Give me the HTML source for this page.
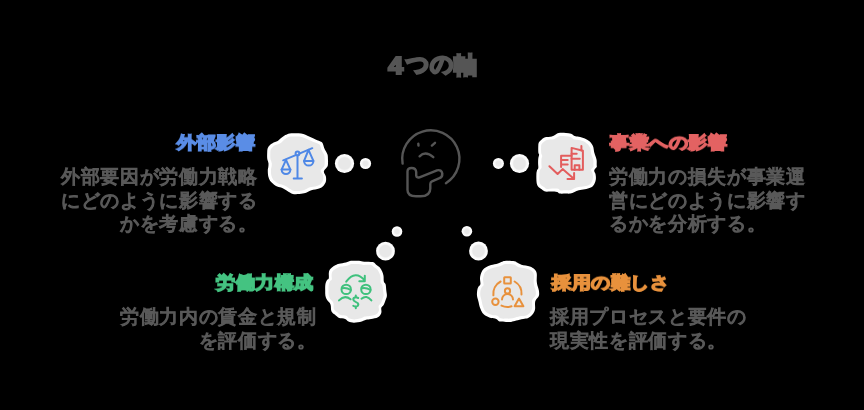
<!DOCTYPE html>
<html><head><meta charset="utf-8">
<style>
html,body{margin:0;padding:0;background:#000;}
body{width:864px;height:410px;position:relative;overflow:hidden;font-family:"Liberation Sans",sans-serif;}
.t{position:absolute;white-space:nowrap;will-change:transform;}
.title{left:0;top:0;font-size:23px;line-height:30px;color:#555;-webkit-text-stroke:2.2px #555;font-weight:bold;}
.title span{position:absolute;}
.h{font-size:19px;letter-spacing:0.5px;line-height:24px;-webkit-text-stroke:2.4px currentColor;transform:scaleY(0.9);transform-origin:50% 11.5px;}
.d{font-size:19px;letter-spacing:0.65px;line-height:23.7px;color:#595959;-webkit-text-stroke:1.2px #595959;}
.r{text-align:right;}
svg{position:absolute;left:0;top:0;}
</style></head><body>
<div class="t title"><span style="left:388.2px;top:50.9px;display:inline-block;transform:scaleX(1.16);transform-origin:-1px 0">4</span><span style="left:406.3px;top:49.3px">つ</span><span style="left:430.2px;top:49.2px">の</span><span style="left:453.9px;top:50.4px">軸</span></div>

<div class="t h r" style="right:609px;top:131px;color:#5a8de6;">外部影響</div>
<div class="t d r" style="right:607px;top:165.3px;">外部要因が労働力戦略<br>にどのように影響する<br>かを考慮する。</div>

<div class="t h" style="left:610px;top:131px;color:#e36262;">事業への影響</div>
<div class="t d" style="left:609px;top:165.3px;">労働力の損失が事業運<br>営にどのように影響す<br>るかを分析する。</div>

<div class="t h r" style="right:551px;top:271px;color:#44c381;">労働力構成</div>
<div class="t d r" style="right:548px;top:305.3px;">労働力内の賃金と規制<br>を評価する。</div>

<div class="t h" style="left:552px;top:271px;color:#e8913c;">採用の難しさ</div>
<div class="t d" style="left:550px;top:305.3px;">採用プロセスと要件の<br>現実性を評価する。</div>

<svg width="864" height="410" viewBox="0 0 864 410">
  <defs><filter id="soft" x="-10%" y="-10%" width="120%" height="120%"><feGaussianBlur stdDeviation="0.6"/></filter></defs>
  <g><path fill="#ffffff" d="M296.0,133.2 C297.9,133.2 299.5,133.2 301.1,133.4 C302.7,133.7 304.0,134.1 305.4,134.7 C306.8,135.3 308.0,136.0 309.7,136.8 C311.4,137.6 313.6,138.5 315.6,139.4 C317.6,140.3 320.3,141.1 321.6,142.0 C322.9,142.9 322.9,143.9 323.3,144.9 C323.7,145.9 323.8,146.8 324.2,147.9 C324.6,149.0 325.3,150.2 325.9,151.3 C326.5,152.5 327.2,153.4 327.6,154.8 C328.0,156.2 327.9,158.7 328.0,159.9 C328.1,161.1 328.1,160.9 328.0,162.0 C327.9,163.1 328.2,164.9 327.6,166.3 C327.0,167.7 324.8,169.4 324.2,170.5 C323.6,171.6 323.9,172.1 324.2,173.1 C324.5,174.1 325.6,175.1 325.9,176.5 C326.2,177.9 326.3,180.0 325.9,181.6 C325.5,183.2 324.4,184.8 323.3,185.9 C322.2,187.1 321.1,187.8 319.1,188.5 C317.1,189.2 313.4,189.6 311.4,190.2 C309.4,190.8 308.5,191.7 307.1,192.3 C305.7,192.9 304.7,193.3 302.8,193.6 C300.9,193.9 297.6,194.2 296.0,194.3 C294.4,194.4 294.2,194.4 293.0,194.0 C291.8,193.6 290.2,192.7 288.8,191.9 C287.4,191.1 285.8,190.0 284.5,189.3 C283.2,188.6 282.5,188.2 281.1,187.6 C279.7,187.0 277.4,186.6 276.0,185.9 C274.6,185.2 273.5,184.2 272.5,183.3 C271.5,182.5 270.7,181.9 270.0,180.8 C269.3,179.7 268.7,178.2 268.3,176.5 C267.9,174.8 267.8,172.1 267.8,170.5 C267.8,168.9 268.2,168.3 268.3,167.1 C268.4,165.9 268.6,164.6 268.5,163.5 C268.4,162.4 268.0,161.6 267.8,160.7 C267.6,159.8 267.3,159.6 267.2,158.2 C267.1,156.8 267.1,153.9 267.2,152.2 C267.3,150.5 267.3,149.1 267.8,147.9 C268.3,146.7 269.2,145.8 270.0,145.0 C270.8,144.2 271.2,143.8 272.5,143.2 C273.8,142.5 276.3,141.9 277.7,141.1 C279.1,140.2 279.8,139.1 281.1,138.1 C282.4,137.1 283.9,135.9 285.3,135.1 C286.7,134.3 287.8,133.7 289.6,133.4 C291.4,133.1 294.1,133.2 296.0,133.2Z"/><path fill="#ffffff" d="M566.0,133.0 C568.0,133.1 569.7,133.3 571.1,133.8 C572.5,134.3 573.2,135.5 574.5,136.0 C575.8,136.5 577.1,136.4 578.8,136.8 C580.5,137.2 583.1,137.8 584.8,138.5 C586.5,139.2 588.0,140.2 589.1,141.1 C590.2,142.0 590.9,142.7 591.6,143.7 C592.3,144.7 592.9,145.7 593.3,147.1 C593.7,148.5 593.8,150.5 594.2,152.2 C594.6,153.9 595.5,155.9 595.9,157.3 C596.3,158.7 596.6,159.4 596.7,160.7 C596.8,162.0 596.7,163.9 596.7,165.0 C596.7,166.1 597.1,166.2 596.7,167.1 C596.3,168.0 594.4,169.3 594.2,170.5 C594.0,171.7 595.2,172.6 595.5,174.0 C595.8,175.4 596.1,177.4 595.9,179.1 C595.7,180.8 595.1,182.8 594.2,184.2 C593.4,185.6 592.4,186.8 590.8,187.6 C589.2,188.4 586.8,188.9 584.8,189.3 C582.8,189.7 580.5,189.8 578.8,190.2 C577.1,190.6 575.9,191.3 574.5,191.9 C573.1,192.5 571.7,193.3 570.3,193.6 C568.9,193.9 567.8,193.6 566.0,193.6 C564.2,193.6 561.1,193.9 559.6,193.6 C558.1,193.3 558.5,192.2 557.1,191.9 C555.7,191.6 553.1,191.6 551.1,191.5 C549.1,191.4 546.7,191.9 545.1,191.5 C543.5,191.1 542.8,190.1 541.7,189.3 C540.6,188.5 539.1,187.9 538.3,186.8 C537.4,185.7 536.9,184.6 536.6,182.5 C536.3,180.4 536.3,176.0 536.4,174.0 C536.5,172.0 536.7,171.5 537.0,170.5 C537.3,169.5 538.1,169.2 538.3,168.0 C538.5,166.8 538.1,165.1 538.1,163.5 C538.1,161.9 538.1,159.6 538.3,158.2 C538.5,156.8 539.1,155.8 539.1,154.8 C539.1,153.8 538.4,153.8 538.3,152.2 C538.2,150.6 538.2,147.1 538.3,145.4 C538.4,143.7 538.5,143.0 539.1,142.0 C539.7,141.0 540.7,140.2 541.7,139.4 C542.7,138.6 543.4,137.8 545.1,137.3 C546.8,136.8 550.2,136.8 551.9,136.4 C553.6,136.0 554.1,135.3 555.3,134.7 C556.4,134.1 557.0,133.3 558.8,133.0 C560.6,132.7 564.0,132.9 566.0,133.0Z"/><path fill="#ffffff" d="M354.0,260.8 C355.4,260.8 357.4,260.7 359.1,260.8 C360.8,260.9 361.9,261.5 364.2,261.7 C366.5,261.9 370.8,261.6 372.8,262.1 C374.8,262.6 375.1,263.9 376.2,264.7 C377.3,265.5 378.6,266.1 379.6,267.2 C380.6,268.3 381.6,270.1 382.2,271.5 C382.8,272.9 383.2,274.1 383.5,275.8 C383.8,277.5 383.5,280.4 383.9,281.8 C384.2,283.2 385.2,282.9 385.6,284.3 C386.0,285.8 386.1,288.6 386.3,290.5 C386.5,292.4 387.0,294.2 386.9,295.8 C386.8,297.4 386.1,298.7 385.6,300.1 C385.1,301.5 384.6,303.1 383.9,304.4 C383.2,305.7 381.7,306.4 381.3,307.8 C380.9,309.2 381.9,311.3 381.3,312.9 C380.7,314.5 379.6,316.2 377.9,317.2 C376.2,318.2 373.1,318.5 371.1,318.9 C369.1,319.3 367.6,319.3 366.0,319.7 C364.4,320.1 363.7,321.0 361.7,321.5 C359.7,322.0 356.2,322.7 354.0,322.7 C351.8,322.7 350.0,322.1 348.5,321.5 C347.0,320.9 346.7,319.5 345.1,318.9 C343.5,318.3 340.8,318.7 339.1,318.0 C337.4,317.3 336.1,315.7 334.8,314.6 C333.5,313.5 332.1,312.9 331.4,311.2 C330.7,309.5 331.2,306.2 330.5,304.4 C329.8,302.5 328.0,301.5 327.1,300.1 C326.2,298.7 325.7,297.4 325.4,295.8 C325.1,294.2 325.2,292.4 325.2,290.5 C325.2,288.6 325.1,286.0 325.4,284.3 C325.7,282.6 326.5,281.1 327.1,280.1 C327.7,279.1 328.5,279.5 328.8,278.3 C329.1,277.1 328.7,274.6 328.8,273.2 C328.9,271.8 329.1,270.8 329.7,269.8 C330.3,268.8 331.2,268.0 332.2,267.2 C333.2,266.4 334.5,265.7 335.7,265.1 C336.9,264.5 337.4,264.2 339.1,263.8 C340.8,263.4 343.9,263.1 345.9,262.6 C347.9,262.1 349.6,261.1 351.0,260.8 C352.4,260.5 352.6,260.8 354.0,260.8Z"/><path fill="#ffffff" d="M506.0,260.8 C508.1,260.7 512.6,261.0 514.5,261.3 C516.4,261.6 516.0,262.0 517.1,262.6 C518.2,263.2 519.3,264.1 521.4,264.7 C523.5,265.3 527.8,265.7 529.9,266.4 C532.0,267.1 533.1,267.9 534.2,269.0 C535.3,270.1 536.3,271.2 536.7,273.2 C537.1,275.2 536.6,278.8 536.7,280.9 C536.9,283.0 537.2,284.4 537.6,286.0 C538.0,287.6 538.7,288.9 538.9,290.5 C539.1,292.1 539.4,294.2 538.9,295.8 C538.4,297.4 536.5,298.8 535.9,300.1 C535.2,301.4 535.1,301.9 535.0,303.5 C534.9,305.1 535.4,307.6 535.0,309.5 C534.6,311.4 533.6,313.2 532.5,314.6 C531.4,316.0 529.8,317.3 528.2,318.0 C526.6,318.7 525.1,318.5 523.1,318.9 C521.1,319.3 518.2,320.1 516.2,320.6 C514.2,321.1 512.8,321.7 511.1,321.9 C509.4,322.1 507.9,322.0 506.0,321.9 C504.1,321.8 501.2,322.0 499.6,321.5 C498.0,321.0 497.6,319.5 496.2,318.9 C494.8,318.3 492.7,318.4 491.1,318.0 C489.5,317.6 488.2,317.2 486.8,316.3 C485.4,315.4 483.6,314.3 482.5,312.9 C481.4,311.5 480.7,309.8 480.0,307.8 C479.3,305.8 478.8,303.0 478.3,301.0 C477.8,299.0 477.2,297.6 477.0,295.8 C476.8,294.1 477.0,292.0 477.2,290.5 C477.4,289.0 477.8,287.9 478.3,286.9 C478.8,285.9 480.1,285.7 480.4,284.3 C480.7,282.9 479.9,280.0 480.0,278.3 C480.1,276.6 480.4,275.5 480.8,274.1 C481.2,272.8 481.6,271.4 482.5,270.2 C483.4,269.0 484.6,268.0 486.0,267.2 C487.4,266.4 489.1,265.7 491.1,265.1 C493.1,264.5 496.0,264.0 497.9,263.4 C499.8,262.8 500.8,262.1 502.2,261.7 C503.6,261.3 503.9,260.9 506.0,260.8Z"/></g>
  <g fill="#e8e8e8" filter="url(#soft)"><path d="M296.1,136.5 C297.8,136.5 299.3,136.4 300.7,136.7 C302.1,136.9 303.2,137.4 304.5,137.9 C305.8,138.4 306.8,139.1 308.3,139.8 C309.8,140.5 311.8,141.3 313.6,142.0 C315.4,142.8 318.0,143.4 319.1,144.2 C320.3,145.0 320.2,145.9 320.6,146.8 C321.0,147.7 321.0,148.6 321.3,149.6 C321.7,150.5 322.4,151.6 322.9,152.6 C323.4,153.6 324.1,154.4 324.4,155.7 C324.7,157.0 324.7,159.2 324.7,160.3 C324.8,161.4 324.8,161.2 324.7,162.2 C324.6,163.1 324.9,164.8 324.3,166.0 C323.7,167.3 321.5,168.7 321.0,169.7 C320.5,170.7 320.8,171.1 321.1,172.0 C321.4,172.9 322.6,173.8 322.9,175.1 C323.2,176.5 323.5,178.4 323.1,179.8 C322.8,181.3 321.8,182.7 320.8,183.8 C319.8,184.8 318.7,185.4 316.9,186.0 C315.1,186.6 311.7,186.8 309.8,187.3 C308.0,187.8 307.3,188.7 306.0,189.2 C304.8,189.7 303.8,190.1 302.2,190.4 C300.6,190.7 297.6,190.9 296.1,191.0 C294.7,191.1 294.5,191.1 293.5,190.7 C292.4,190.4 291.0,189.5 289.7,188.7 C288.5,188.0 287.1,187.0 286.0,186.3 C284.8,185.7 284.2,185.3 282.9,184.9 C281.7,184.4 279.6,184.1 278.3,183.5 C277.0,182.9 276.0,182.0 275.1,181.2 C274.2,180.5 273.4,180.1 272.8,179.0 C272.2,178.0 271.6,176.7 271.3,175.2 C271.0,173.6 271.0,171.2 271.0,169.7 C271.1,168.3 271.4,167.7 271.6,166.7 C271.7,165.7 271.9,164.5 271.8,163.5 C271.7,162.6 271.3,161.8 271.1,161.0 C270.9,160.2 270.6,160.1 270.4,158.8 C270.3,157.5 270.2,154.9 270.3,153.4 C270.3,151.8 270.3,150.5 270.7,149.5 C271.1,148.4 272.0,147.6 272.7,146.9 C273.4,146.2 273.9,145.8 275.0,145.3 C276.2,144.8 278.6,144.3 279.9,143.6 C281.2,142.9 281.7,141.8 282.9,140.9 C284.0,140.0 285.3,138.9 286.6,138.1 C287.8,137.4 288.8,136.9 290.4,136.6 C292.0,136.3 294.4,136.5 296.1,136.5Z"/><path d="M566.0,136.3 C567.8,136.4 569.3,136.6 570.5,137.1 C571.8,137.5 572.4,138.7 573.5,139.2 C574.7,139.6 575.8,139.4 577.4,139.8 C578.9,140.1 581.3,140.5 582.8,141.1 C584.4,141.7 585.7,142.6 586.7,143.4 C587.8,144.2 588.4,144.8 589.0,145.7 C589.6,146.6 590.1,147.5 590.5,148.8 C590.8,150.1 590.8,151.9 591.1,153.4 C591.5,155.0 592.3,156.7 592.7,158.0 C593.1,159.3 593.3,159.9 593.4,161.0 C593.5,162.2 593.4,163.9 593.4,164.9 C593.4,165.8 593.8,165.9 593.4,166.7 C593.0,167.5 591.2,168.7 591.0,169.7 C590.8,170.8 592.1,171.6 592.4,172.9 C592.7,174.2 593.1,176.0 593.0,177.6 C592.8,179.2 592.3,181.0 591.5,182.3 C590.8,183.6 589.9,184.6 588.4,185.3 C587.0,186.0 584.7,186.3 582.8,186.6 C581.0,187.0 578.9,186.9 577.4,187.2 C575.8,187.6 574.8,188.2 573.5,188.7 C572.3,189.3 571.1,190.1 569.8,190.3 C568.6,190.6 567.6,190.3 566.0,190.3 C564.4,190.3 561.6,190.6 560.3,190.4 C559.0,190.1 559.4,189.0 558.1,188.7 C556.8,188.5 554.5,188.6 552.7,188.6 C550.8,188.6 548.5,189.1 547.1,188.9 C545.6,188.6 545.0,187.6 544.0,186.9 C542.9,186.2 541.6,185.7 540.8,184.7 C540.1,183.7 539.6,182.7 539.4,180.7 C539.2,178.8 539.4,174.7 539.5,172.9 C539.7,171.1 539.9,170.6 540.2,169.7 C540.6,168.8 541.4,168.5 541.6,167.5 C541.8,166.5 541.4,165.0 541.4,163.5 C541.4,162.1 541.4,160.1 541.5,158.8 C541.7,157.6 542.3,156.7 542.2,155.8 C542.2,154.9 541.5,154.9 541.3,153.5 C541.1,152.0 541.0,148.8 541.1,147.2 C541.1,145.7 541.2,145.0 541.7,144.1 C542.2,143.2 543.1,142.4 544.0,141.7 C544.9,141.0 545.6,140.3 547.1,139.9 C548.7,139.5 551.9,139.7 553.4,139.3 C555.0,139.0 555.4,138.3 556.4,137.8 C557.5,137.3 558.0,136.5 559.5,136.2 C561.1,136.0 564.2,136.2 566.0,136.3Z"/><path d="M354.2,264.1 C355.4,264.1 357.2,264.0 358.7,264.1 C360.2,264.2 361.2,264.7 363.2,264.9 C365.3,265.0 369.2,264.5 371.1,264.9 C372.9,265.3 373.1,266.5 374.1,267.2 C375.1,268.0 376.3,268.4 377.2,269.5 C378.1,270.5 378.9,272.1 379.5,273.4 C380.0,274.7 380.3,275.7 380.5,277.3 C380.7,278.8 380.4,281.4 380.7,282.7 C381.0,283.9 382.0,283.6 382.3,284.9 C382.7,286.2 382.8,288.7 383.0,290.4 C383.2,292.1 383.7,293.7 383.7,295.2 C383.6,296.6 382.9,297.7 382.5,299.0 C382.0,300.3 381.6,301.7 381.0,302.9 C380.3,304.0 379.0,304.6 378.6,305.9 C378.3,307.2 379.3,309.2 378.9,310.7 C378.4,312.1 377.4,313.7 375.8,314.6 C374.3,315.5 371.4,315.7 369.6,316.0 C367.7,316.3 366.3,316.2 364.9,316.6 C363.5,317.0 362.9,317.8 361.1,318.3 C359.3,318.7 356.1,319.4 354.2,319.4 C352.2,319.4 350.6,318.9 349.2,318.3 C347.9,317.7 347.6,316.3 346.2,315.8 C344.8,315.3 342.3,315.8 340.8,315.1 C339.2,314.5 338.1,313.1 336.9,312.1 C335.8,311.0 334.5,310.6 333.9,309.0 C333.3,307.4 334.0,304.4 333.3,302.7 C332.7,301.1 331.0,300.2 330.2,299.0 C329.4,297.7 328.9,296.6 328.6,295.1 C328.3,293.7 328.5,292.1 328.5,290.4 C328.5,288.7 328.4,286.4 328.7,284.9 C328.9,283.3 329.7,282.0 330.2,281.1 C330.8,280.3 331.6,280.6 331.8,279.6 C332.1,278.5 331.5,276.2 331.6,274.9 C331.7,273.6 331.8,272.7 332.3,271.8 C332.8,270.9 333.7,270.2 334.6,269.5 C335.5,268.8 336.7,268.1 337.8,267.7 C338.8,267.2 339.3,266.9 340.9,266.6 C342.4,266.2 345.3,266.1 347.0,265.7 C348.8,265.3 350.3,264.3 351.5,264.1 C352.7,263.8 353.0,264.1 354.2,264.1Z"/><path d="M506.2,264.1 C508.0,264.0 512.1,264.2 513.7,264.5 C515.4,264.8 515.0,265.2 516.1,265.7 C517.1,266.2 517.9,267.1 519.9,267.6 C521.8,268.1 525.7,268.3 527.7,268.9 C529.7,269.4 530.6,270.1 531.7,271.1 C532.7,272.1 533.6,273.1 533.9,274.9 C534.2,276.8 533.5,280.1 533.6,282.0 C533.7,284.0 534.0,285.2 534.4,286.6 C534.7,288.0 535.4,289.1 535.6,290.6 C535.8,292.1 536.1,293.9 535.6,295.3 C535.2,296.8 533.4,298.0 532.7,299.1 C532.1,300.3 532.1,300.8 532.0,302.2 C531.9,303.6 532.6,306.0 532.2,307.7 C531.9,309.4 531.1,311.1 530.1,312.4 C529.1,313.6 527.6,314.8 526.2,315.4 C524.7,316.0 523.3,315.7 521.5,316.0 C519.6,316.4 517.0,317.0 515.3,317.4 C513.5,317.9 512.2,318.4 510.7,318.6 C509.2,318.8 507.9,318.7 506.2,318.6 C504.4,318.6 501.9,318.8 500.4,318.3 C499.0,317.8 498.7,316.4 497.4,315.8 C496.2,315.3 494.3,315.5 492.8,315.2 C491.4,314.8 490.2,314.5 488.9,313.8 C487.6,313.0 486.0,312.0 485.0,310.7 C484.0,309.5 483.4,307.9 482.8,306.1 C482.2,304.3 481.9,301.8 481.4,300.0 C481.0,298.2 480.4,296.9 480.3,295.3 C480.1,293.8 480.3,291.9 480.5,290.6 C480.7,289.3 481.0,288.3 481.6,287.4 C482.1,286.5 483.4,286.4 483.6,285.1 C483.8,283.9 483.0,281.3 483.0,279.7 C483.0,278.2 483.2,277.1 483.6,275.9 C483.9,274.7 484.2,273.4 485.0,272.3 C485.8,271.3 486.9,270.4 488.2,269.7 C489.5,268.9 491.0,268.4 492.8,267.9 C494.6,267.4 497.3,267.0 499.0,266.5 C500.6,266.0 501.6,265.4 502.8,264.9 C504.0,264.5 504.3,264.2 506.2,264.1Z"/></g>
  <defs>
    <radialGradient id="dg" cx="0.5" cy="0.5" r="0.5">
      <stop offset="0" stop-color="#e8e8e8"/><stop offset="0.6" stop-color="#e8e8e8"/><stop offset="0.76" stop-color="#fafafa"/><stop offset="1" stop-color="#fff"/>
    </radialGradient>
    <radialGradient id="dgs" cx="0.5" cy="0.5" r="0.5">
      <stop offset="0" stop-color="#e8e8e8"/><stop offset="0.4" stop-color="#eaeaea"/><stop offset="0.7" stop-color="#fafafa"/><stop offset="1" stop-color="#fff"/>
    </radialGradient>
  </defs>
  <g fill="url(#dg)">
    <circle cx="344.5" cy="163.5" r="9.6"/>
    <circle cx="519.5" cy="163.5" r="9.6"/>
    <circle cx="385.5" cy="251.1" r="9.4"/>
    <circle cx="478.5" cy="251" r="9.4"/>
  </g>
  <g fill="url(#dgs)">
    <circle cx="365.5" cy="163.5" r="5.6"/>
    <circle cx="498.4" cy="163.4" r="5.5"/>
    <circle cx="397" cy="231.5" r="5.3"/>
    <circle cx="466.9" cy="231.3" r="5.3"/>
  </g>
  <!-- face -->
  <g fill="none" stroke="#555" stroke-width="2.4" stroke-linecap="round" stroke-linejoin="round">
    <path d="M402.6,163.6 A28.6,28.6 0 1 1 445.9,183.2"/>
    <path d="M418.3,143.6 L418.5,145.6"/>
    <path d="M431.9,145.6 L435,142.8"/>
    <path d="M419.6,156.3 Q425.5,150.5 433.3,157.2"/>
    <path d="M407.5,190 V171.5 Q407.5,168 411.6,168 Q415.9,168 416.2,172 V175.5 Q416.6,178.2 419.5,177.3 L437,170.3 Q441.5,169.3 442.3,173.5 Q442.5,177 439.5,178.2 L432,181.3 Q430.3,182 430.3,184 V188.5 Q430.3,196.3 420.5,196.3 H416 Q407.5,196.3 407.5,190 Z"/>
  </g>
  <!-- scales -->
  <g fill="none" stroke="#4f88e6" stroke-width="2" stroke-linecap="round" stroke-linejoin="round">
    <path d="M283.2,160.3 L295.7,155.1 M299.3,153.6 L312.3,148.2"/>
    <circle cx="297.5" cy="153.4" r="1.9"/>
    <path d="M297.5,155.4 V178.4 M293.7,178.4 H301.9"/>
    <path d="M281.6,169.6 L286,159.8 L290.4,169.6 Z"/>
    <path d="M281.6,169.6 A4.4,4.4 0 0 0 290.4,169.6"/>
    <path d="M304.1,160.9 L308.5,149.9 L313.4,160.9 Z"/>
    <path d="M304.1,160.9 A4.65,4.65 0 0 0 313.4,160.9"/>
  </g>
  <!-- building + arrow -->
  <g fill="none" stroke="#e35d5d" stroke-width="2" stroke-linecap="round" stroke-linejoin="round">
    <path d="M571.6,169.7 V147.9 L582.9,150.8 V169.7 Z"/>
    <path d="M581.4,145.9 V150.4"/>
    <path d="M571.6,153.7 H576.7 M571.6,158.8 H579.8"/>
    <path d="M574.7,169.7 V165.2 H579.4 V169.7"/>
    <path d="M561.1,167 V155.7 H571.6 M561.1,160 H567.7 M561.1,164.6 H567.7"/>
    <path d="M549.4,166.3 L557.6,174 L562.6,169.1 L574.1,179 M574.1,172.9 V179 H567.5"/>
  </g>
  <!-- people money -->
  <g fill="none" stroke="#3fc17d" stroke-width="2" stroke-linecap="round" stroke-linejoin="round">
    <path d="M346.2,281.7 Q355.5,269.5 364.8,280.6 M364.8,275.7 V281.2 H359.3"/>
    <circle cx="346.2" cy="289.4" r="4.7"/>
    <circle cx="365.9" cy="289.4" r="4.7"/>
    <path d="M342,288.3 Q346,287 350.8,290 M361.7,288.3 Q365.7,287 370.5,290"/>
    <path d="M339,300.4 Q344.5,294.5 350.6,299.3 M361.5,298.7 Q366.5,294.5 371.4,300.4"/>
    <path d="M358.2,298 Q355.8,296.8 354,297.8 Q352.6,299.2 354,300.7 Q355.8,302 357.6,303 Q359,304.6 357.6,306 Q355.8,307 353.3,305.8"/>
    <path d="M355.8,295.5 V297.2 M355.8,306.8 V308.3"/>
  </g>
  <!-- orange -->
  <g fill="none" stroke="#e8913c" stroke-width="2" stroke-linecap="round" stroke-linejoin="round">
    <rect x="504.2" y="277.3" width="6.6" height="6.2" rx="0.5"/>
    <circle cx="507.5" cy="290.9" r="2.6"/>
    <path d="M502,299.4 A5.5,5.3 0 0 1 513,299.4"/>
    <circle cx="495.4" cy="301.8" r="3.2"/>
    <path d="M514.6,306.2 H523.4 L519,298.5 Z"/>
    <path d="M500.6,281.5 A14,14 0 0 0 493.4,295.3"/>
    <path d="M514.6,281.5 A14,14 0 0 1 521.5,294.5"/>
    <path d="M501.5,305.6 A14,14 0 0 0 511.5,306.3"/>
  </g>
</svg>
</body></html>
